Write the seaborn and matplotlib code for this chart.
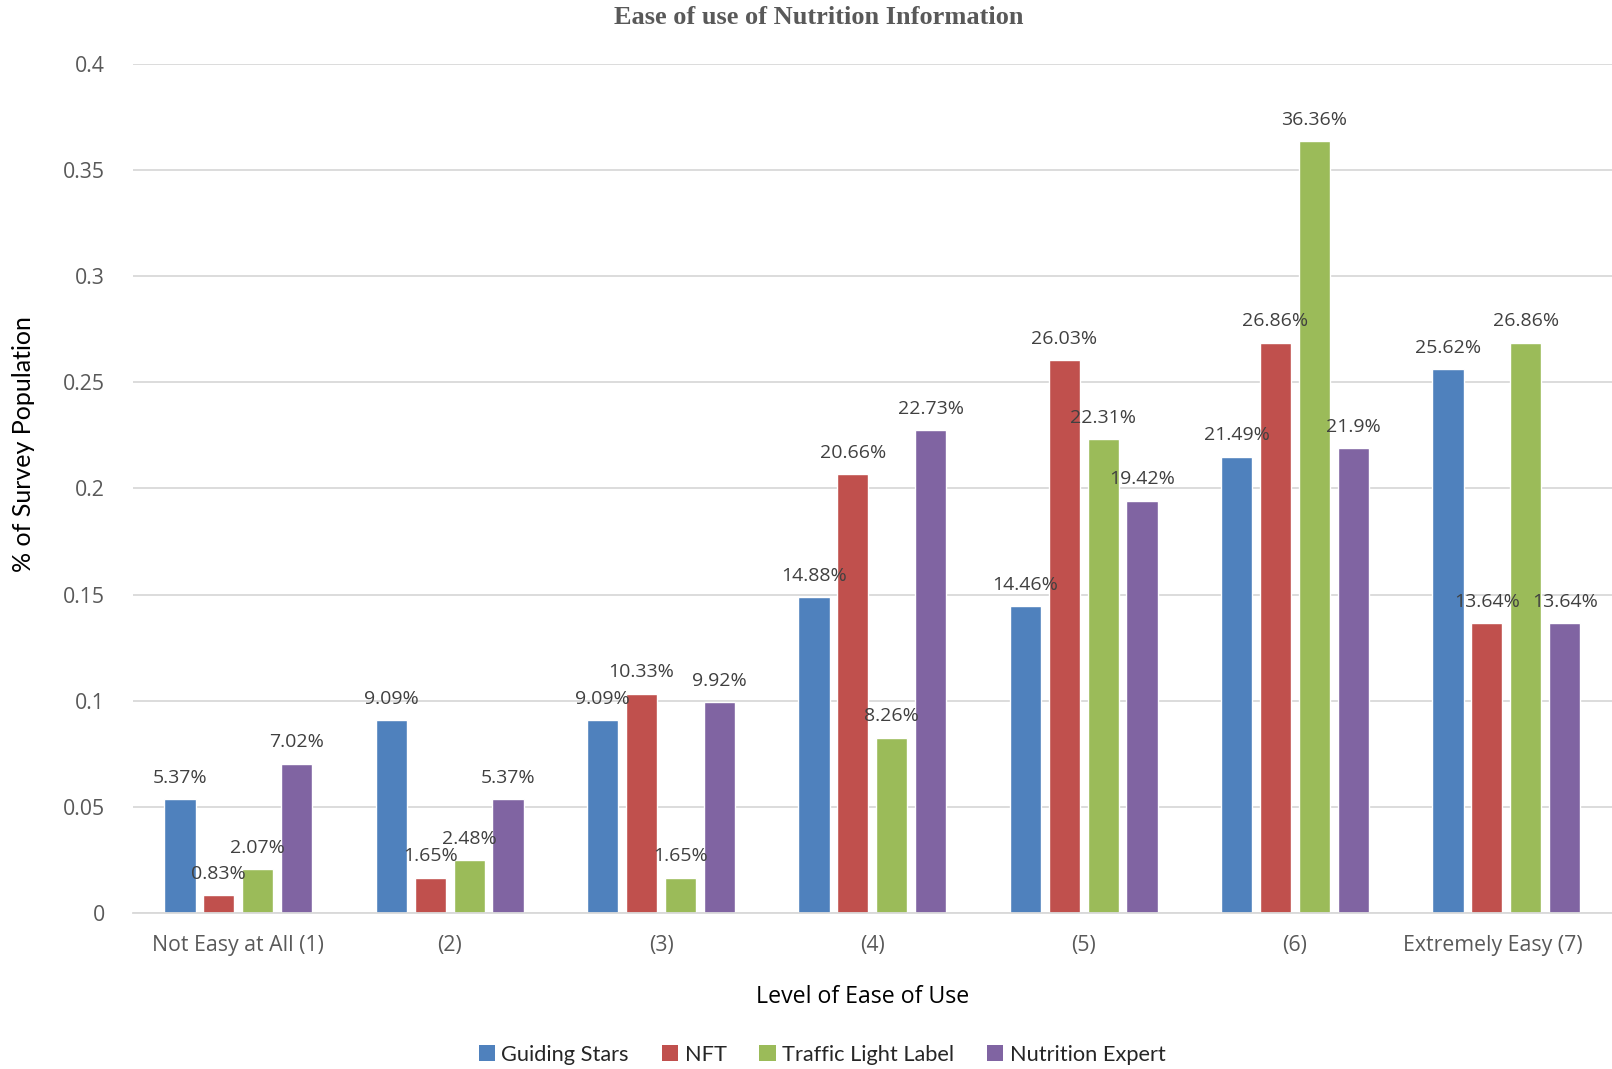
import matplotlib
matplotlib.use("Agg")
import matplotlib.pyplot as plt
import matplotlib.transforms as mtransforms
from matplotlib.patches import Patch
import pandas as pd
import seaborn as sns

# Survey results: share of respondents (in %) at each ease-of-use level
levels = ["Not Easy at All (1)", "(2)", "(3)", "(4)", "(5)", "(6)", "Extremely Easy (7)"]
series_names = ["Guiding Stars", "NFT", "Traffic Light Label", "Nutrition Expert"]
guiding_stars = [5.37, 9.09, 9.09, 14.88, 14.46, 21.49, 25.62]
nft = [0.83, 1.65, 10.33, 20.66, 26.03, 26.86, 13.64]
traffic_light = [2.07, 2.48, 1.65, 8.26, 22.31, 36.36, 26.86]
nutrition_expert = [7.02, 5.37, 9.92, 22.73, 19.42, 21.90, 13.64]
y_ticks = [0, 0.05, 0.1, 0.15, 0.2, 0.25, 0.3, 0.35, 0.4]
y_tick_labels = ["0", "0.05", "0.1", "0.15", "0.2", "0.25", "0.3", "0.35", "0.4"]

colors = ["#4F81BD", "#C0504D", "#9BBB59", "#8064A2"]

rows = []
for name, vals in zip(series_names, [guiding_stars, nft, traffic_light, nutrition_expert]):
    for lvl, v in zip(levels, vals):
        rows.append({"level": lvl, "series": name, "pct": v, "share": v / 100.0})
df = pd.DataFrame(rows)

sns.set_theme(style="white")
plt.rcParams["font.family"] = ["Open Sans", "DejaVu Sans"]

fig = plt.figure(figsize=(16.12, 10.69), dpi=100)
ax = fig.add_axes([0.0823, 0.1459, 0.9177, 0.7945])

sns.barplot(data=df, x="level", y="share", hue="series", order=levels,
            hue_order=series_names, palette=colors, width=0.737, gap=0.2,
            saturation=1, errorbar=None, legend=False, ax=ax)

ax.set_ylim(0, 0.4)
ax.set_xlim(-0.5, len(levels) - 0.5)
ax.set_yticks(y_ticks)
ax.set_yticklabels(y_tick_labels)
ax.yaxis.grid(True, color="#D9D9D9", linewidth=1.3)
ax.set_axisbelow(True)
for side in ["top", "right", "left"]:
    ax.spines[side].set_visible(False)
ax.spines["bottom"].set_color("#D9D9D9")
ax.spines["bottom"].set_linewidth(1.3)
ax.tick_params(axis="both", length=0, labelsize=15.3, labelcolor="#595959")
ax.tick_params(axis="y", pad=20)
ax.tick_params(axis="x", pad=16)

# value labels above each bar
for container, name in zip(ax.containers, series_names):
    vals = df[df["series"] == name].set_index("level").loc[levels, "pct"]
    labels = [f"{round(v, 2):g}%" for v in vals]
    ax.bar_label(container, labels=labels, padding=9, fontsize=14, color="#404040")

# keep the last category label inside the figure
last = ax.get_xticklabels()[-1]
last.set_transform(last.get_transform() + mtransforms.ScaledTranslation(-14 / 100, 0, fig.dpi_scale_trans))

ax.set_xlabel("Level of Ease of Use", fontsize=16.7, color="black")
ax.xaxis.set_label_coords(0.4935, -0.085)
ax.set_ylabel("% of Survey Population", fontsize=18, color="black",
              family=["Lato", "DejaVu Sans"])
ax.yaxis.set_label_coords(-0.0663, 0.552)

fig.text(0.508, 0.984, "Ease of use of Nutrition Information", ha="center", va="center",
         fontsize=19, fontweight="bold", color="#595959",
         family=["Liberation Serif", "DejaVu Serif"])

handles = [Patch(facecolor=c, edgecolor="none") for c in colors]
fig.legend(handles, series_names, loc="center", bbox_to_anchor=(0.51, 0.0135), ncol=4,
           frameon=False, handlelength=0.75, handleheight=0.75,
           handletextpad=0.3, columnspacing=1.5,
           prop={"family": ["Lato", "DejaVu Sans"], "size": 15.7})

fig.savefig("out.png", dpi=100)
